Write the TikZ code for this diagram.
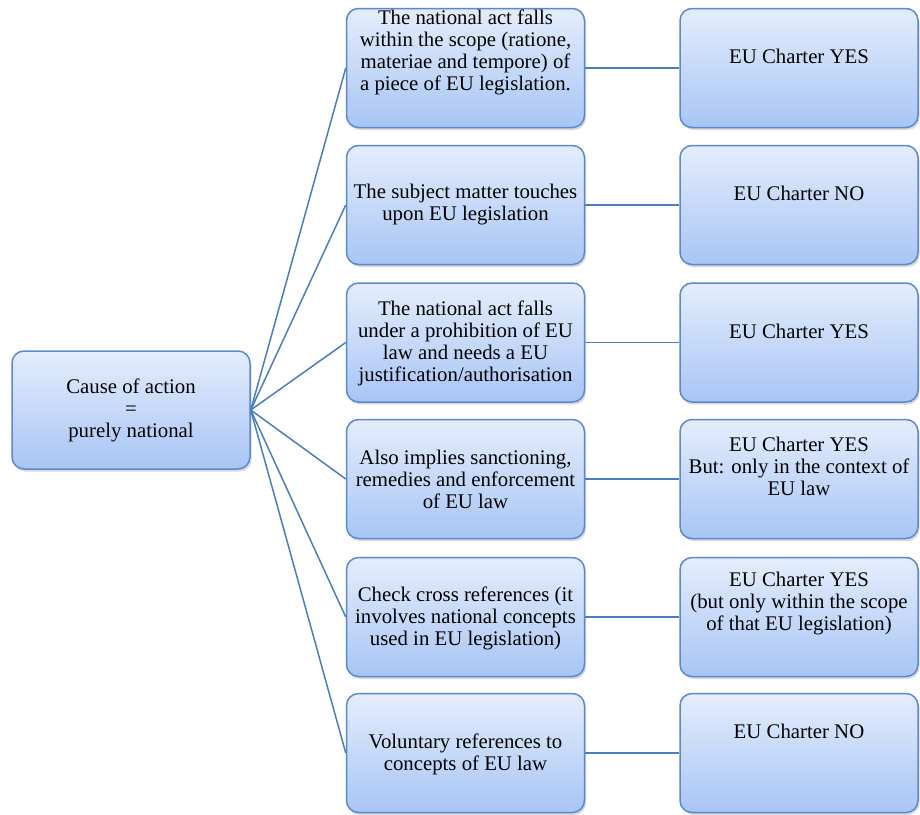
\documentclass[tikz,border=0pt]{standalone}
\usepackage{fontspec}
\setmainfont{Liberation Serif}
\usetikzlibrary{shadows}
\definecolor{boxline}{HTML}{5A89CF}
\definecolor{boxtop}{HTML}{E4EDFC}
\definecolor{boxbot}{HTML}{A8C5F5}
\definecolor{conn}{HTML}{4A7EBF}
\tikzset{
  box/.style={draw=boxline, line width=1.5pt, rounded corners=12pt,
    top color=boxtop, bottom color=boxbot, inner sep=0pt,
    minimum width=238pt, minimum height=119pt,
    drop shadow={opacity=0.3, shadow xshift=1.5pt, shadow yshift=-2.5pt}},
  txt/.style={align=center, inner sep=0pt, font=\fontsize{20.8}{22}\selectfont},
  conn/.style={draw=conn, line width=1.5pt}
}
\begin{document}
\begin{tikzpicture}[x=1pt,y=1pt]
\useasboundingbox (0,0) rectangle (920,-814);
% boxes
\node[box, minimum height=118pt] (L) at (131,-410) {};
\node[box] (m1) at (465.5,-68) {};
\node[box] (m2) at (465.5,-205) {};
\node[box] (m3) at (465.5,-342.5) {};
\node[box] (m4) at (465.5,-479) {};
\node[box] (m5) at (465.5,-617) {};
\node[box] (m6) at (465.5,-753) {};
\node[box] (r1) at (799,-68) {};
\node[box] (r2) at (799,-205) {};
\node[box] (r3) at (799,-342.5) {};
\node[box] (r4) at (799,-479) {};
\node[box] (r5) at (799,-617) {};
\node[box] (r6) at (799,-753) {};
% connectors
\foreach \i in {1,...,6}{
  \draw[conn] (L.east) -- (m\i.west);
  \draw[conn] (m\i.east) -- (r\i.west);
}
% texts
\node[txt] (tL) at (131,-410) {Cause of action\\=\\purely national};
\node[txt] (tm1) at (465.5,-52) {The national act falls\\within the scope (ratione,\\materiae and tempore) of\\a piece of EU legislation.};
\node[txt] (tm2) at (465.5,-205) {The subject matter touches\\upon EU legislation};
\node[txt] (tm3) at (465.5,-343) {The national act falls\\under a prohibition of EU\\law and needs a EU\\justification/authorisation};
\node[txt] (tm4) at (465.5,-479) {Also implies sanctioning,\\remedies and enforcement\\of EU law};
\node[txt] (tm5) at (465.5,-618) {Check cross references (it\\involves national concepts\\used in EU legislation)};
\node[txt] (tm6) at (465.5,-754) {Voluntary references to\\concepts of EU law};
\node[txt] (tr1) at (799,-56) {EU Charter YES};
\node[txt] (tr2) at (799,-193) {EU Charter NO};
\node[txt] (tr3) at (799,-331) {EU Charter YES};
\node[txt] (tr4) at (799,-466) {EU Charter YES\\But: only in the context of\\EU law};
\node[txt] (tr5) at (799,-604) {EU Charter YES\\(but only within the scope\\of that EU legislation)};
\node[txt] (tr6) at (799,-731) {EU Charter NO};
\end{tikzpicture}
\end{document}
